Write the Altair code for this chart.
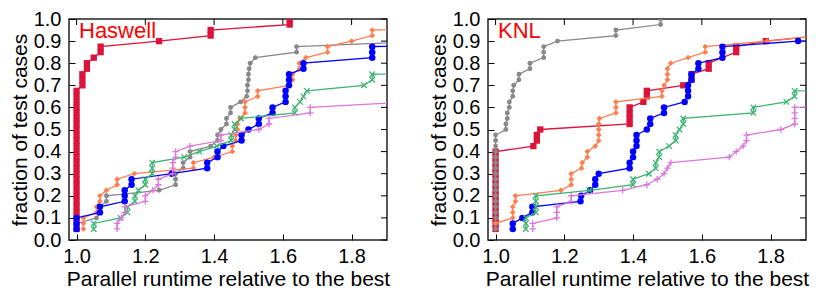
import altair as alt
import pandas as pd

FONT = "Liberation Sans"
SERIES = ["red", "gray", "orange", "blue", "green", "pink"]

# ---------------- Haswell (x = runtime ratio, y = fraction of test cases)
HAS_RED = [(1.0, 0.05), (1.0, 0.075), (1.0, 0.1), (1.0, 0.125), (1.0, 0.15), (1.0, 0.175),
           (1.0, 0.2), (1.0, 0.225), (1.0, 0.25), (1.0, 0.275), (1.0, 0.3), (1.0, 0.325),
           (1.0, 0.35), (1.0, 0.375), (1.0, 0.4), (1.0, 0.425), (1.0, 0.45), (1.0, 0.475),
           (1.0, 0.5), (1.0, 0.525), (1.0, 0.55), (1.0, 0.575), (1.0, 0.6), (1.0, 0.625),
           (1.0, 0.65), (1.0, 0.675), (1.017, 0.7), (1.017, 0.725), (1.017, 0.75),
           (1.03, 0.775), (1.03, 0.8), (1.05, 0.825), (1.07, 0.85), (1.07, 0.875),
           (1.24, 0.9), (1.39, 0.925), (1.39, 0.95), (1.62, 0.975), (1.62, 1.0)]
HAS_GRAY = [(1.0, 0.05), (1.0, 0.075), (1.058, 0.1), (1.068, 0.125), (1.068, 0.15),
            (1.087, 0.175), (1.087, 0.2), (1.24, 0.225), (1.288, 0.25), (1.288, 0.275),
            (1.288, 0.3), (1.31, 0.325), (1.31, 0.35), (1.33, 0.375), (1.33, 0.4),
            (1.39, 0.425), (1.41, 0.45), (1.41, 0.475), (1.42, 0.5), (1.436, 0.525),
            (1.436, 0.55), (1.448, 0.575), (1.448, 0.6), (1.477, 0.625), (1.495, 0.65),
            (1.497, 0.675), (1.497, 0.7), (1.5, 0.725), (1.5, 0.75), (1.502, 0.775),
            (1.505, 0.8), (1.52, 0.825), (1.64, 0.85), (1.64, 0.875), (2.02, 0.9)]
HAS_ORANGE = [(1.02, 0.05), (1.02, 0.075), (1.02, 0.1), (1.058, 0.125), (1.058, 0.15),
              (1.068, 0.175), (1.068, 0.2), (1.087, 0.225), (1.118, 0.25), (1.118, 0.275),
              (1.168, 0.3), (1.34, 0.325), (1.34, 0.35), (1.4, 0.375), (1.453, 0.4),
              (1.453, 0.425), (1.463, 0.45), (1.463, 0.475), (1.468, 0.5), (1.468, 0.525),
              (1.475, 0.55), (1.49, 0.575), (1.49, 0.6), (1.49, 0.625), (1.527, 0.65),
              (1.527, 0.675), (1.618, 0.7), (1.628, 0.725), (1.628, 0.75), (1.648, 0.775),
              (1.648, 0.8), (1.667, 0.825), (1.73, 0.85), (1.73, 0.875), (1.8, 0.9),
              (1.86, 0.925), (1.86, 0.95), (2.5, 0.975)]
HAS_BLUE = [(1.0, 0.05), (1.0, 0.075), (1.0, 0.1), (1.068, 0.125), (1.068, 0.15),
            (1.14, 0.175), (1.14, 0.2), (1.14, 0.225), (1.16, 0.25), (1.16, 0.275),
            (1.277, 0.3), (1.38, 0.325), (1.38, 0.35), (1.41, 0.375), (1.41, 0.4),
            (1.427, 0.425), (1.48, 0.45), (1.48, 0.475), (1.5, 0.5), (1.53, 0.525),
            (1.53, 0.55), (1.57, 0.575), (1.57, 0.6), (1.608, 0.625), (1.608, 0.65),
            (1.608, 0.675), (1.618, 0.7), (1.618, 0.725), (1.618, 0.75), (1.66, 0.775),
            (1.66, 0.8), (1.86, 0.825), (1.86, 0.85), (1.86, 0.875), (2.5, 0.9)]
HAS_GREEN = [(1.05, 0.05), (1.05, 0.075), (1.128, 0.1), (1.148, 0.125), (1.148, 0.15),
             (1.17, 0.175), (1.17, 0.2), (1.18, 0.225), (1.2, 0.25), (1.2, 0.275),
             (1.22, 0.3), (1.22, 0.325), (1.22, 0.35), (1.313, 0.375), (1.357, 0.4),
             (1.408, 0.425), (1.45, 0.45), (1.45, 0.475), (1.46, 0.5), (1.46, 0.525),
             (1.478, 0.55), (1.635, 0.575), (1.635, 0.6), (1.65, 0.625), (1.66, 0.65),
             (1.67, 0.675), (1.836, 0.7), (1.86, 0.725), (1.86, 0.75), (2.6, 0.775)]
HAS_PINK = [(1.118, 0.05), (1.118, 0.075), (1.13, 0.1), (1.14, 0.125), (1.14, 0.15),
            (1.2, 0.175), (1.2, 0.2), (1.222, 0.225), (1.238, 0.25), (1.238, 0.275),
            (1.28, 0.3), (1.28, 0.325), (1.28, 0.35), (1.288, 0.375), (1.288, 0.4),
            (1.33, 0.425), (1.42, 0.45), (1.42, 0.475), (1.53, 0.5), (1.56, 0.525),
            (1.56, 0.55), (1.68, 0.575), (1.68, 0.6), (1.97, 0.625)]

# ---------------- KNL
KNL_RED = [(1.0, 0.05), (1.0, 0.075), (1.0, 0.1), (1.0, 0.125), (1.0, 0.15), (1.0, 0.175),
           (1.0, 0.2), (1.0, 0.225), (1.0, 0.25), (1.0, 0.275), (1.0, 0.3), (1.0, 0.325),
           (1.0, 0.35), (1.0, 0.375), (1.0, 0.4), (1.11, 0.425), (1.12, 0.45), (1.12, 0.475),
           (1.13, 0.5), (1.39, 0.525), (1.39, 0.55), (1.39, 0.575), (1.39, 0.6),
           (1.43, 0.625), (1.44, 0.65), (1.44, 0.675), (1.546, 0.7), (1.57, 0.725),
           (1.57, 0.75), (1.62, 0.775), (1.62, 0.8), (1.70, 0.85), (1.70, 0.875),
           (1.786, 0.9), (1.95, 0.925)]
KNL_GRAY = [(1.0, 0.05), (1.0, 0.075), (1.0, 0.1), (1.0, 0.125), (1.0, 0.15), (1.0, 0.175),
            (1.0, 0.2), (1.0, 0.225), (1.0, 0.25), (1.0, 0.275), (1.0, 0.3), (1.0, 0.325),
            (1.0, 0.35), (1.0, 0.375), (1.0, 0.4), (1.0, 0.425), (1.0, 0.45), (1.0, 0.475),
            (1.03, 0.5), (1.03, 0.525), (1.034, 0.55), (1.034, 0.575), (1.04, 0.6),
            (1.04, 0.625), (1.05, 0.65), (1.05, 0.675), (1.053, 0.7), (1.068, 0.725),
            (1.068, 0.75), (1.1, 0.775), (1.1, 0.8), (1.14, 0.825), (1.14, 0.85),
            (1.14, 0.875), (1.18, 0.9), (1.35, 0.925), (1.35, 0.95), (1.48, 0.975),
            (1.48, 1.0)]
KNL_ORANGE = [(1.0, 0.075), (1.05, 0.1), (1.05, 0.125), (1.05, 0.15), (1.058, 0.175),
              (1.058, 0.2), (1.19, 0.225), (1.22, 0.25), (1.22, 0.275), (1.22, 0.3),
              (1.25, 0.325), (1.252, 0.35), (1.267, 0.375), (1.267, 0.4), (1.29, 0.425),
              (1.3, 0.45), (1.3, 0.475), (1.3, 0.5), (1.3, 0.525), (1.302, 0.55),
              (1.35, 0.575), (1.35, 0.6), (1.35, 0.625), (1.484, 0.65), (1.484, 0.675),
              (1.49, 0.7), (1.5, 0.725), (1.5, 0.75), (1.5, 0.775), (1.51, 0.8),
              (1.56, 0.825), (1.61, 0.85), (1.61, 0.875), (1.79, 0.9), (1.947, 0.925)]
KNL_BLUE = [(1.05, 0.05), (1.05, 0.075), (1.078, 0.1), (1.107, 0.125), (1.107, 0.15),
            (1.247, 0.175), (1.249, 0.2), (1.275, 0.225), (1.29, 0.25), (1.29, 0.275),
            (1.3, 0.3), (1.39, 0.325), (1.39, 0.35), (1.4, 0.375), (1.4, 0.4),
            (1.41, 0.425), (1.41, 0.45), (1.41, 0.475), (1.44, 0.5), (1.45, 0.525),
            (1.45, 0.55), (1.49, 0.575), (1.49, 0.6), (1.55, 0.625), (1.56, 0.65),
            (1.56, 0.675), (1.56, 0.7), (1.57, 0.725), (1.57, 0.75), (1.59, 0.775),
            (1.59, 0.8), (1.66, 0.825), (1.66, 0.85), (1.66, 0.875), (1.88, 0.9),
            (2.5, 0.925)]
KNL_GREEN = [(1.088, 0.05), (1.088, 0.075), (1.088, 0.1), (1.117, 0.125), (1.117, 0.15),
             (1.117, 0.175), (1.117, 0.2), (1.273, 0.225), (1.4, 0.25), (1.4, 0.275),
             (1.446, 0.3), (1.466, 0.325), (1.466, 0.35), (1.476, 0.375), (1.476, 0.4),
             (1.505, 0.425), (1.524, 0.45), (1.524, 0.475), (1.535, 0.5), (1.546, 0.525),
             (1.546, 0.55), (1.75, 0.575), (1.75, 0.6), (1.846, 0.625), (1.87, 0.65),
             (1.87, 0.675), (2.6, 0.7)]
KNL_PINK = [(1.108, 0.05), (1.108, 0.075), (1.178, 0.1), (1.178, 0.125), (1.178, 0.15),
            (1.22, 0.175), (1.22, 0.2), (1.37, 0.225), (1.44, 0.25), (1.47, 0.275),
            (1.49, 0.3), (1.5, 0.325), (1.51, 0.35), (1.68, 0.375), (1.70, 0.4),
            (1.72, 0.425), (1.73, 0.45), (1.73, 0.475), (1.83, 0.5), (1.87, 0.525),
            (1.87, 0.55), (1.87, 0.575), (1.87, 0.6), (2.6, 0.625)]

X_TICKS = [1.0, 1.2, 1.4, 1.6, 1.8]
Y_TICKS = [0.0, 0.1, 0.2, 0.3, 0.4, 0.5, 0.6, 0.7, 0.8, 0.9, 1.0]
X_DOMAIN = [0.978, 1.903]
Y_DOMAIN = [0.0, 1.0]

W, H = 318, 221
TICK = 6

X_PATH = "M-1,-1L1,1M-1,1L1,-1"
PLUS_PATH = "M-1,0L1,0M0,-1L0,1"

STYLE = {
    "red": dict(color="#dc143c", shape="square", size=40, filled=True, sw=1),
    "gray": dict(color="#888888", shape="circle", size=24, filled=True, sw=1),
    "orange": dict(color="#ff7f50", shape="diamond", size=34, filled=True, sw=1),
    "blue": dict(color="#0000ff", shape="circle", size=42, filled=True, sw=1),
    "green": dict(color="#3cb371", shape=X_PATH, size=30, filled=False, sw=1.3),
    "pink": dict(color="#dd77dd", shape=PLUS_PATH, size=40, filled=False, sw=1.3),
}

xs = alt.Scale(domain=X_DOMAIN, nice=False, zero=False)
ys = alt.Scale(domain=Y_DOMAIN, nice=False, zero=False)
xaxis = alt.Axis(values=X_TICKS, format=".1f", title="Parallel runtime relative to the best",
                 offset=-TICK, tickSize=TICK, domain=False, labelPadding=6, titlePadding=2)
yaxis = alt.Axis(values=Y_TICKS, format=".1f", title="fraction of test cases",
                 offset=-TICK, tickSize=TICK, domain=False, labelPadding=8, titlePadding=3)


def panel(label, data):
    layers = []
    ytick_df = pd.DataFrame({"y": Y_TICKS})
    xtick_df = pd.DataFrame({"x": X_TICKS})
    layers.append(alt.Chart(ytick_df).mark_rule(color="black", strokeWidth=1).encode(
        y=alt.Y("y:Q", scale=ys, axis=yaxis),
        x=alt.value(W - TICK), x2=alt.value(W)))
    layers.append(alt.Chart(xtick_df).mark_rule(color="black", strokeWidth=1).encode(
        x=alt.X("x:Q", scale=xs, axis=xaxis),
        y=alt.value(0), y2=alt.value(TICK)))
    for s in SERIES:
        df = pd.DataFrame(data[s], columns=["x", "y"])
        df["i"] = range(len(df))
        st = STYLE[s]
        base = alt.Chart(df).encode(
            x=alt.X("x:Q", scale=xs, axis=xaxis),
            y=alt.Y("y:Q", scale=ys, axis=yaxis),
            order=alt.Order("i:Q"))
        layers.append(base.mark_line(color=st["color"], strokeWidth=1.3, clip=True))
        layers.append(base.mark_point(color=st["color"], shape=st["shape"], size=st["size"],
                                      filled=st["filled"], opacity=1, strokeWidth=st["sw"],
                                      clip=True))
    layers.append(alt.Chart(pd.DataFrame({"t": [label]})).mark_text(
        align="left", baseline="alphabetic", fontSize=22, font=FONT, color="#ff0000").encode(
        text="t:N", x=alt.value(10), y=alt.value(19)))
    return alt.layer(*layers).properties(width=W, height=H)


haswell = panel("Haswell", {"red": HAS_RED, "gray": HAS_GRAY, "orange": HAS_ORANGE,
                            "blue": HAS_BLUE, "green": HAS_GREEN, "pink": HAS_PINK})
knl = panel("KNL", {"red": KNL_RED, "gray": KNL_GRAY, "orange": KNL_ORANGE,
                    "blue": KNL_BLUE, "green": KNL_GREEN, "pink": KNL_PINK})

chart = alt.hconcat(haswell, knl, spacing=36).properties(
    padding={"left": 0, "top": 0, "right": 0, "bottom": 0}
).configure_view(stroke="#222222", strokeWidth=1.5).configure_axis(
    grid=False, labelFont=FONT, titleFont=FONT, labelFontSize=20, titleFontSize=21,
    titleFontWeight="normal", labelColor="black", titleColor="black", tickColor="black"
)

chart.save("out.html", embed_options={"renderer": "svg", "actions": False})
